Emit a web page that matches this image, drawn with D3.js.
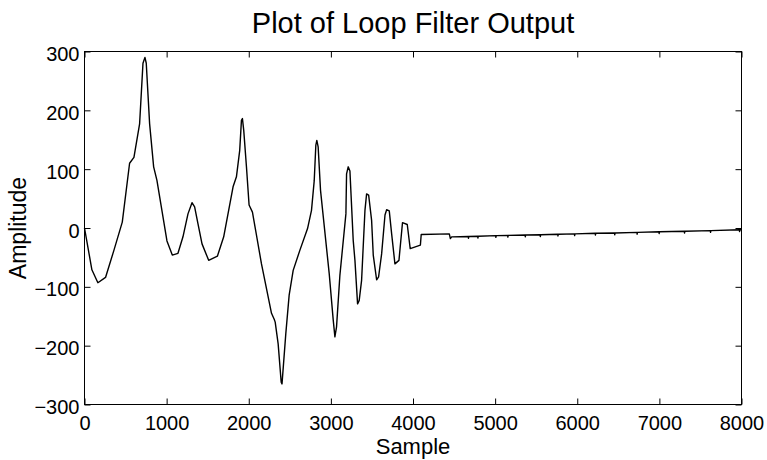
<!DOCTYPE html>
<html>
<head>
<meta charset="utf-8">
<script src="https://cdn.jsdelivr.net/npm/d3@7"></script>
<style>
  body { margin: 0; background: #fff; }
  svg text { font-family: "Liberation Sans", Arial, Helvetica, sans-serif; fill: #000; }
</style>
</head>
<body>
<div id="chart"></div>
<script>
// Loop filter output
const samples = [
  0, 90, 163, 256, 358, 460, 549, 602, 671, 712, 736, 752, 793, 842, 882,
  1004, 1069, 1138, 1199, 1260, 1309, 1341, 1382, 1431, 1512, 1618, 1695,
  1809, 1850, 1890, 1911, 1923, 1939, 1972, 2004, 2045, 2155, 2277, 2310, 2322,
  2358, 2395, 2405, 2451, 2492, 2541, 2622, 2716, 2764, 2797, 2817, 2829, 2845,
  2874, 2980, 3029, 3049, 3069, 3110, 3183, 3191, 3211, 3232, 3272, 3293, 3325,
  3345, 3374, 3415, 3435, 3460, 3496, 3516, 3557, 3581, 3618, 3659, 3679, 3711,
  3740, 3780, 3829, 3872, 3930, 3966, 4090, 4100, 4442, 4455, 4471,
  4674, 4675, 4680, 4789, 4790, 4795, 5008, 5009, 5014, 5154, 5155, 5160,
  5366, 5367, 5372, 5549, 5550, 5555, 5764, 5765, 5770, 5967, 5968, 5973,
  6220, 6221, 6226, 6455, 6456, 6461, 6728, 6729, 6734, 6996, 6997, 7002,
  7305, 7306, 7311, 7622, 7623, 7628, 7975, 7976, 7981, 8000
];
const amplitude = [
  0, -71, -93, -84, -38, 10, 110, 120, 177, 280, 290, 280, 177, 104, 81,
  -22, -46, -43, -15, 24, 43, 36, 7, -27, -55, -48, -15,
  70, 87, 132, 183, 186, 166, 104, 39, 27, -61, -145, -155, -160,
  -197, -262, -265, -180, -114, -72, -38, -1, 30, 80, 141, 149, 138,
  64, -78, -157, -185, -168, -80, 24, 92, 104, 97, -21, -55, -129,
  -123, -89, 30, 58, 56, 13, -46, -88, -83, -44, 22, 31, 29,
  -10, -61, -55, 9, 6, -35, -29, -11, -10, -18, -15,
  -14.5, -17.5, -14.5, -14, -17, -14, -13, -16, -13, -12.5, -15.5, -12.5,
  -12, -15, -12, -11.5, -14.5, -11.5, -10.5, -13.5, -10.5, -10, -13, -10,
  -9, -12, -9, -8.5, -11.5, -8.5, -7.5, -10.5, -7.5, -6.5, -9.5, -6.5,
  -5.5, -8.5, -5.5, -4.5, -7.5, -4.5, -3, -6, -3, -3
];
const xTicks = [0, 1000, 2000, 3000, 4000, 5000, 6000, 7000, 8000];
const yTicks = [-300, -200, -100, 0, 100, 200, 300];

const width = 767;
const height = 460;
const plot = { left: 84.5, right: 741.5, top: 51.5, bottom: 404.5 };
const tickLen = 6;

const svg = d3.select('#chart').append('svg')
  .attr('width', width)
  .attr('height', height);

const x = d3.scaleLinear().domain([0, 8000]).range([plot.left, plot.right]);
const y = d3.scaleLinear().domain([-300, 300]).range([plot.bottom, plot.top]);

const fmt = d => d < 0 ? '\u2212' + Math.abs(d) : String(d);

// bottom axis with labels, ticks pointing inward
const xAxis = svg.append('g')
  .attr('transform', `translate(0,${plot.bottom})`)
  .call(d3.axisBottom(x).tickValues(xTicks).tickFormat(fmt)
    .tickSizeInner(-tickLen).tickSizeOuter(0).tickPadding(11));
xAxis.selectAll('text').style('font-size', '20px');

// top axis, ticks only
svg.append('g')
  .attr('transform', `translate(0,${plot.top})`)
  .call(d3.axisTop(x).tickValues(xTicks).tickFormat('')
    .tickSizeInner(-tickLen).tickSizeOuter(0));

// left axis with labels
const yAxis = svg.append('g')
  .attr('transform', `translate(${plot.left},0)`)
  .call(d3.axisLeft(y).tickValues(yTicks).tickFormat(fmt)
    .tickSizeInner(-tickLen).tickSizeOuter(0).tickPadding(5));
yAxis.selectAll('text').style('font-size', '20px').attr('dy', '0.45em');

// right axis, ticks only
svg.append('g')
  .attr('transform', `translate(${plot.right},0)`)
  .call(d3.axisRight(y).tickValues(yTicks).tickFormat('')
    .tickSizeInner(-tickLen).tickSizeOuter(0));

svg.selectAll('.domain').remove();
svg.selectAll('.tick line').attr('stroke', '#000');

// box
svg.append('rect')
  .attr('x', plot.left)
  .attr('y', plot.top)
  .attr('width', plot.right - plot.left)
  .attr('height', plot.bottom - plot.top)
  .attr('fill', 'none')
  .attr('stroke', '#000')
  .attr('stroke-width', 1);

// signal
const data = samples.map((s, i) => ({ s, a: amplitude[i] }));
const line = d3.line()
  .x(d => x(d.s))
  .y(d => y(d.a));

svg.append('path')
  .datum(data)
  .attr('d', line)
  .attr('fill', 'none')
  .attr('stroke', '#000')
  .attr('stroke-width', 1.4)
  .attr('stroke-linejoin', 'round');

// title and labels
svg.append('text')
  .attr('x', (plot.left + plot.right) / 2)
  .attr('y', 33)
  .attr('text-anchor', 'middle')
  .style('font-size', '29px')
  .text('Plot of Loop Filter Output');

svg.append('text')
  .attr('x', (plot.left + plot.right) / 2)
  .attr('y', 453.5)
  .attr('text-anchor', 'middle')
  .style('font-size', '22px')
  .text('Sample');

svg.append('text')
  .attr('transform', `translate(26,${(plot.top + plot.bottom) / 2}) rotate(-90)`)
  .attr('text-anchor', 'middle')
  .style('font-size', '23px')
  .text('Amplitude');
</script>
</body>
</html>
